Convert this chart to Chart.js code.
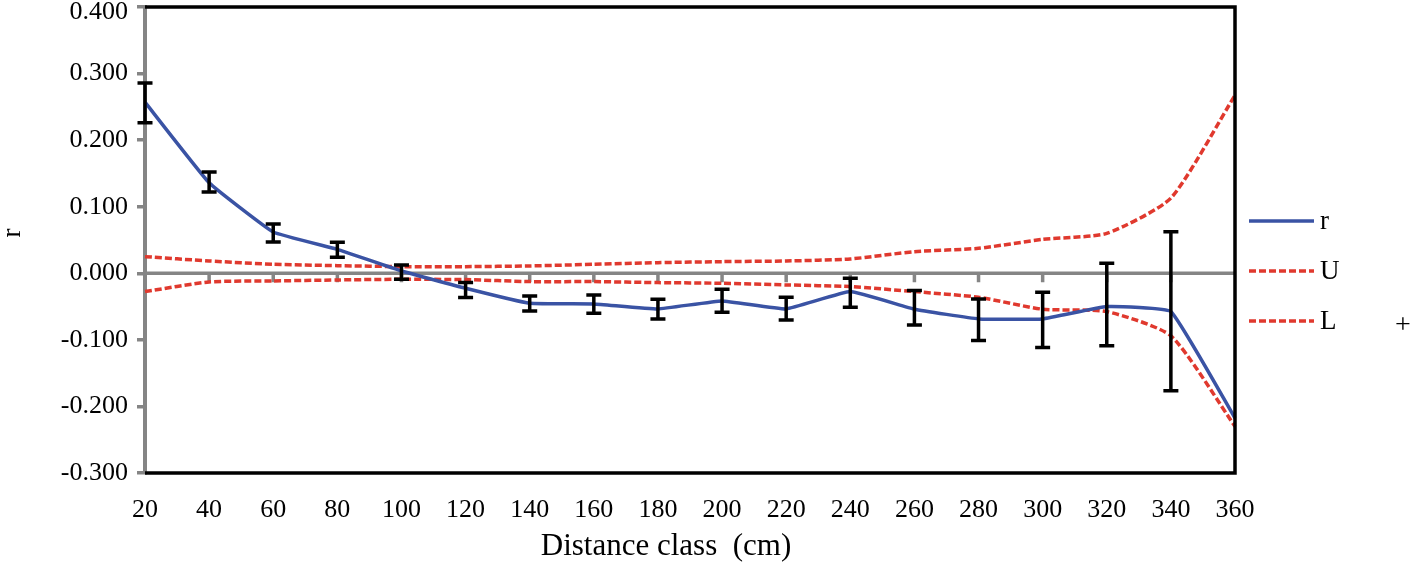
<!DOCTYPE html>
<html>
<head>
<meta charset="utf-8">
<script src="https://cdn.jsdelivr.net/npm/chart.js@4"></script>
<style>
  html, body { margin: 0; padding: 0; background: #fff; }
  #wrap { width: 1416px; height: 564px; position: relative; }
</style>
</head>
<body>
<div id="wrap"><canvas id="myChart"></canvas></div>
<script>
// distance classes (cm)
const distance = ['20', '40', '60', '80', '100', '120', '140', '160', '180', '200',
  '220', '240', '260', '280', '300', '320', '340', '360']

// correlogram r and its error bars
const rValues = [0.257, 0.136, 0.062, 0.036, 0.0035, -0.0225, -0.045, -0.046, -0.0535,
  -0.0415, -0.0535, -0.0275, -0.054, -0.0685, -0.0685, -0.050, -0.0575, -0.2175]
const rHigh = [0.286, 0.152, 0.074, 0.0465, 0.0125, -0.014, -0.034, -0.0325, -0.039,
  -0.024, -0.036, -0.0075, -0.026, -0.0385, -0.0285, 0.015, 0.0625, null]
const rLow = [0.226, 0.122, 0.047, 0.024, -0.009, -0.0365, -0.0565, -0.060, -0.0685,
  -0.0585, -0.070, -0.051, -0.0775, -0.101, -0.1115, -0.109, -0.1765, null]

// upper and lower confidence limits
const upper = [0.025, 0.0185, 0.0135, 0.0115, 0.010, 0.010, 0.011, 0.0135, 0.016,
  0.0175, 0.0185, 0.0215, 0.0325, 0.0375, 0.051, 0.060, 0.113, 0.2675]
const lower = [-0.0275, -0.013, -0.0115, -0.010, -0.009, -0.0095, -0.0125, -0.0125, -0.014,
  -0.015, -0.0175, -0.020, -0.0275, -0.036, -0.054, -0.0575, -0.094, -0.23]

const yTicks = [-0.3, -0.2, -0.1, 0, 0.1, 0.2, 0.3, 0.4]

const SERIF = "'Liberation Serif', 'Times New Roman', serif"
const BLUE = '#3a53a4'
const RED = '#e0392e'
const GRAY = '#858585'

const extras = {
  id: 'extras',
  beforeDatasetsDraw(chart) {
    const { ctx, chartArea: a, scales: { x, y } } = chart
    const y0 = y.getPixelForValue(0)
    ctx.save()
    ctx.strokeStyle = GRAY
    ctx.lineWidth = 3.5
    ctx.beginPath()
    ctx.moveTo(a.left, y0)
    ctx.lineTo(a.right, y0)
    for (let i = 1; i < distance.length - 1; i++) {
      const px = x.getPixelForValue(i)
      ctx.moveTo(px, y0)
      ctx.lineTo(px, y0 + 9)
    }
    ctx.stroke()

    // y tick labels (top one kept inside the canvas like the original)
    ctx.font = '26px ' + SERIF
    ctx.fillStyle = '#000'
    ctx.textAlign = 'right'
    ctx.textBaseline = 'middle'
    yTicks.forEach(v => {
      const py = Math.max(y.getPixelForValue(v), 12)
      ctx.fillText((Math.abs(v) < 1e-9 ? 0 : v).toFixed(3), 128, py)
    })
    ctx.restore()
  },
  afterDatasetsDraw(chart) {
    const { ctx, chartArea: a, scales: { x, y } } = chart
    ctx.save()
    // error bars
    ctx.strokeStyle = '#000'
    ctx.lineWidth = 3.5
    ctx.beginPath()
    rHigh.forEach((hi, i) => {
      if (hi === null) return
      const px = x.getPixelForValue(i)
      const top = y.getPixelForValue(hi)
      const bot = y.getPixelForValue(rLow[i])
      ctx.moveTo(px, top)
      ctx.lineTo(px, bot)
      ctx.moveTo(px - 7.5, top)
      ctx.lineTo(px + 7.5, top)
      ctx.moveTo(px - 7.5, bot)
      ctx.lineTo(px + 7.5, bot)
    })
    ctx.stroke()

    // black frame top / right / bottom
    ctx.lineWidth = 3.5
    ctx.beginPath()
    ctx.moveTo(a.left, a.top)
    ctx.lineTo(a.right, a.top)
    ctx.lineTo(a.right, a.bottom)
    ctx.lineTo(a.left, a.bottom)
    ctx.stroke()

    // legend
    const items = chart.data.datasets
    ctx.font = '27px ' + SERIF
    ctx.textBaseline = 'middle'
    ctx.fillStyle = '#000'
    items.forEach((ds, i) => {
      const ly = 221 + i * 50
      ctx.strokeStyle = ds.borderColor
      ctx.lineWidth = 3.5
      ctx.setLineDash(ds.borderDash || [])
      ctx.beginPath()
      ctx.moveTo(1249, ly)
      ctx.lineTo(1314, ly)
      ctx.stroke()
      ctx.setLineDash([])
      ctx.fillText(ds.label, 1320, ly + 1)
    })
    ctx.font = '28px ' + SERIF
    ctx.fillText('+', 1395, 326)

    // axis titles
    ctx.font = '31px ' + SERIF
    ctx.textAlign = 'center'
    ctx.fillText('Distance class  (cm)', 666, 547)
    ctx.translate(13, 233)
    ctx.rotate(-Math.PI / 2)
    ctx.font = '27px ' + SERIF
    ctx.fillText('r', 0, 0)
    ctx.restore()
  }
}

const ctx = document.getElementById('myChart').getContext('2d')
const myChart = new Chart(ctx, {
  type: 'line',
  data: {
    labels: distance,
    datasets: [
      {
        label: 'r',
        data: rValues,
        borderColor: BLUE,
        borderWidth: 3.5,
        pointRadius: 0,
        tension: 0.1,
      },
      {
        label: 'U',
        data: upper,
        borderColor: RED,
        borderWidth: 3.5,
        borderDash: [7, 3],
        pointRadius: 0,
        tension: 0.2,
      },
      {
        label: 'L',
        data: lower,
        borderColor: RED,
        borderWidth: 3.5,
        borderDash: [7, 3],
        pointRadius: 0,
        tension: 0.2,
      },
    ],
  },
  options: {
    responsive: true,
    maintainAspectRatio: false,
    animation: false,
    events: [],
    layout: { padding: { left: 0, right: 181, top: 7, bottom: 0 } },
    scales: {
      x: {
        offset: false,
        grid: { display: false },
        border: { display: false },
        ticks: {
          color: '#000',
          font: { family: SERIF, size: 26 },
          padding: 14,
          maxRotation: 0,
          autoSkip: false,
        },
        afterFit(scale) {
          scale.height = 91
          scale.paddingLeft = 0
          scale.paddingRight = 0
        },
      },
      y: {
        min: -0.3,
        max: 0.4,
        afterBuildTicks(scale) {
          scale.ticks = yTicks.map(v => ({ value: v }))
        },
        grid: {
          drawOnChartArea: false,
          drawTicks: true,
          tickLength: 8,
          color: GRAY,
          lineWidth: 3.5,
        },
        border: { color: GRAY, width: 4 },
        ticks: { display: false },
        afterFit(scale) {
          scale.width = 145
          scale.paddingTop = 0
          scale.paddingBottom = 0
        },
      },
    },
    plugins: {
      legend: { display: false },
      tooltip: { enabled: false },
    },
  },
  plugins: [extras],
})
</script>
</body>
</html>
